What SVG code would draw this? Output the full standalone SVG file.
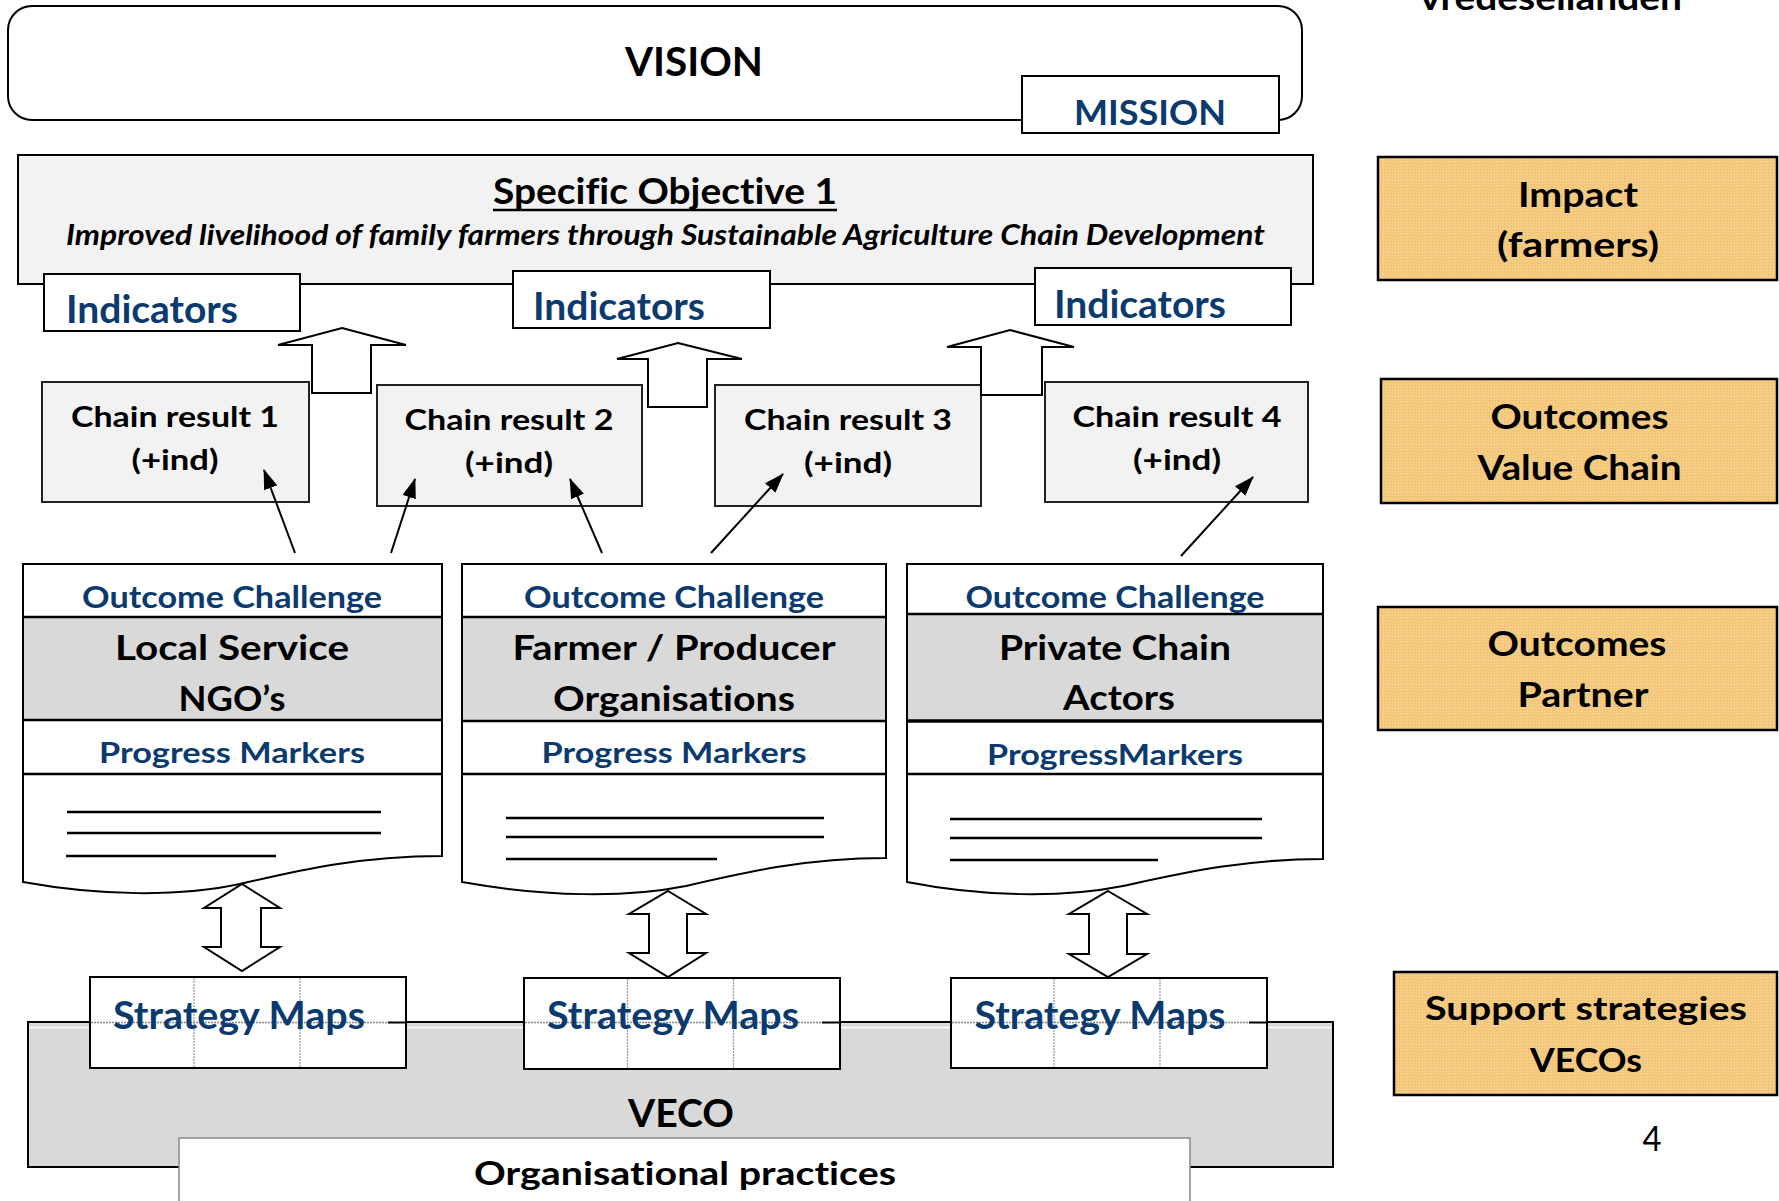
<svg xmlns="http://www.w3.org/2000/svg" width="1779" height="1201" viewBox="0 0 1779 1201">
<defs>
<style>
text{font-family:Lato,"Open Sans","Liberation Sans",sans-serif;font-weight:bold;text-anchor:middle;fill:#000;font-variant-ligatures:none}
.b{fill:#0B3A6F}
.box{stroke:#000;stroke-width:2}
.cr{fill:#F2F2F2;stroke:#222;stroke-width:2}
.blk{fill:none;stroke:#000;stroke-width:2}
.hollow{fill:#fff;stroke:#000;stroke-width:2;stroke-linejoin:miter}
.orange{fill:url(#dots);stroke:#000;stroke-width:2.5}
.pm{stroke:#000;stroke-width:2.6}
.conn{stroke:#000;stroke-width:2;fill:none}
</style>
<pattern id="dots" width="3" height="3" patternUnits="userSpaceOnUse">
<rect width="3" height="3" fill="#F2C577"/>
<rect width="1" height="1" fill="#F9DDAA"/>
<rect x="2" y="2" width="1" height="1" fill="#F6D293"/>
</pattern>
<marker id="ah" markerWidth="20" markerHeight="14" refX="19" refY="7" orient="auto" markerUnits="userSpaceOnUse">
<path d="M0,0 L20,7 L0,14 Z" fill="#000"/>
</marker>
</defs>
<rect width="1779" height="1201" fill="#fff"/>

<text x="1551" y="10" font-size="34" textLength="262" lengthAdjust="spacingAndGlyphs" fill="#1a1a1a">vredeseilanden</text>

<g id="vision">
<rect x="8" y="6" width="1294" height="114" rx="24" ry="24" fill="#fff" stroke="#000" stroke-width="2"/>
<text x="694" y="76" font-size="41" textLength="138" lengthAdjust="spacingAndGlyphs">VISION</text>
</g>
<g id="mission">
<rect x="1022" y="76" width="257" height="57" fill="#fff" class="box"/>
<text x="1150" y="125" font-size="35" class="b" textLength="152" lengthAdjust="spacingAndGlyphs">MISSION</text>
</g>

<g id="objective">
<rect x="18" y="155" width="1295" height="129" fill="#F2F2F2" class="box"/>
<text x="665" y="204" font-size="36" textLength="344" lengthAdjust="spacingAndGlyphs">Specific Objective 1</text>
<line x1="493" y1="210" x2="837" y2="210" stroke="#000" stroke-width="2.5"/>
<text x="665.5" y="245" font-size="28" font-style="italic" textLength="1199" lengthAdjust="spacingAndGlyphs">Improved livelihood of family farmers through Sustainable Agriculture Chain Development</text>
</g>

<g id="indicators1">
<rect x="44" y="274" width="256" height="57" fill="#fff" class="box"/>
<text x="152" y="323" font-size="39" class="b" textLength="172" lengthAdjust="spacingAndGlyphs">Indicators</text>
</g>
<g id="indicators2">
<rect x="513" y="271" width="257" height="57" fill="#fff" class="box"/>
<text x="619" y="320" font-size="39" class="b" textLength="172" lengthAdjust="spacingAndGlyphs">Indicators</text>
</g>
<g id="indicators3">
<rect x="1035" y="268" width="256" height="57" fill="#fff" class="box"/>
<text x="1140" y="318" font-size="39" class="b" textLength="172" lengthAdjust="spacingAndGlyphs">Indicators</text>
</g>

<g id="chain1">
<rect x="42" y="382" width="267" height="120" class="cr"/>
<text x="175" y="427" font-size="28" textLength="208" lengthAdjust="spacingAndGlyphs">Chain result 1</text>
<text x="175" y="470" font-size="28" textLength="87" lengthAdjust="spacingAndGlyphs">(+ind)</text>
</g>
<g id="chain2">
<rect x="377" y="385" width="265" height="121" class="cr"/>
<text x="509" y="430" font-size="28" textLength="209" lengthAdjust="spacingAndGlyphs">Chain result 2</text>
<text x="509" y="473" font-size="28" textLength="88" lengthAdjust="spacingAndGlyphs">(+ind)</text>
</g>
<g id="chain3">
<rect x="715" y="385" width="266" height="121" class="cr"/>
<text x="848" y="430" font-size="28" textLength="208" lengthAdjust="spacingAndGlyphs">Chain result 3</text>
<text x="848" y="473" font-size="28" textLength="88" lengthAdjust="spacingAndGlyphs">(+ind)</text>
</g>
<g id="chain4">
<rect x="1045" y="382" width="263" height="120" class="cr"/>
<text x="1177" y="427" font-size="28" textLength="209" lengthAdjust="spacingAndGlyphs">Chain result 4</text>
<text x="1177" y="470" font-size="28" textLength="88" lengthAdjust="spacingAndGlyphs">(+ind)</text>
</g>

<g id="partner1">
<path d="M23,564 H442 V856 C 360,856 300,870 240,884 C 180,897 100,896 23,882 Z" fill="#fff" stroke="#000" stroke-width="2"/>
<rect x="23" y="617" width="419" height="103" fill="#D9D9D9"/>
<line class="pm" x1="23" y1="617" x2="442" y2="617"/>
<line class="pm" x1="23" y1="720" x2="442" y2="720"/>
<line class="pm" x1="23" y1="774" x2="442" y2="774"/>
<line class="blk" x1="23" y1="564" x2="23" y2="882"/>
<line class="blk" x1="442" y1="564" x2="442" y2="856"/>
<line class="pm" x1="67" y1="812" x2="381" y2="812"/>
<line class="pm" x1="67" y1="833" x2="381" y2="833"/>
<line class="pm" x1="66" y1="856" x2="276" y2="856"/>
<text x="232" y="608" font-size="30" class="b" textLength="300" lengthAdjust="spacingAndGlyphs">Outcome Challenge</text>
<text x="232" y="660" font-size="35" textLength="234" lengthAdjust="spacingAndGlyphs">Local  Service</text>
<text x="232" y="711" font-size="35" textLength="107" lengthAdjust="spacingAndGlyphs">NGO’s</text>
<text x="232" y="763" font-size="29" class="b" textLength="266" lengthAdjust="spacingAndGlyphs">Progress Markers</text>
</g>

<g id="partner2">
<path d="M462,564 H886 V858 C 806,858 746,872 686,886 C 626,898 546,897 462,882 Z" fill="#fff" stroke="#000" stroke-width="2"/>
<rect x="462" y="617" width="424" height="104" fill="#D9D9D9"/>
<line class="pm" x1="462" y1="617" x2="886" y2="617"/>
<line class="pm" x1="462" y1="721" x2="886" y2="721"/>
<line class="pm" x1="462" y1="774" x2="886" y2="774"/>
<line class="blk" x1="462" y1="564" x2="462" y2="882"/>
<line class="blk" x1="886" y1="564" x2="886" y2="858"/>
<line class="pm" x1="506" y1="818" x2="824" y2="818"/>
<line class="pm" x1="506" y1="837" x2="824" y2="837"/>
<line class="pm" x1="506" y1="859" x2="717" y2="859"/>
<text x="674" y="608" font-size="30" class="b" textLength="300" lengthAdjust="spacingAndGlyphs">Outcome Challenge</text>
<text x="674" y="660" font-size="35" textLength="323" lengthAdjust="spacingAndGlyphs">Farmer / Producer</text>
<text x="674" y="711" font-size="35" textLength="242" lengthAdjust="spacingAndGlyphs">Organisations</text>
<text x="674" y="763" font-size="29" class="b" textLength="265" lengthAdjust="spacingAndGlyphs">Progress Markers</text>
</g>

<g id="partner3">
<path d="M907,564 H1323 V859 C 1243,859 1183,873 1123,886 C 1063,898 983,897 907,882 Z" fill="#fff" stroke="#000" stroke-width="2"/>
<rect x="907" y="614" width="416" height="107" fill="#D9D9D9"/>
<line class="pm" x1="907" y1="614" x2="1323" y2="614"/>
<line x1="907" y1="721" x2="1323" y2="721" stroke="#000" stroke-width="3.5"/>
<line class="pm" x1="907" y1="774" x2="1323" y2="774"/>
<line class="blk" x1="907" y1="564" x2="907" y2="882"/>
<line class="blk" x1="1323" y1="564" x2="1323" y2="859"/>
<line class="pm" x1="950" y1="819" x2="1262" y2="819"/>
<line class="pm" x1="950" y1="838" x2="1262" y2="838"/>
<line class="pm" x1="950" y1="860" x2="1158" y2="860"/>
<text x="1115" y="608" font-size="30" class="b" textLength="299" lengthAdjust="spacingAndGlyphs">Outcome Challenge</text>
<text x="1115" y="660" font-size="35" textLength="232" lengthAdjust="spacingAndGlyphs">Private Chain</text>
<text x="1119" y="710" font-size="35" textLength="112" lengthAdjust="spacingAndGlyphs">Actors</text>
<text x="1115" y="765" font-size="29" class="b" textLength="256" lengthAdjust="spacingAndGlyphs">ProgressMarkers</text>
</g>

<g id="connectors">
<path class="hollow" d="M342,328 L406,345 L371,345 L371,393 L312,393 L312,345 L278,345 Z"/>
<path class="hollow" d="M678,343 L742,359 L707,359 L707,407 L648,407 L648,359 L617,359 Z"/>
<path class="hollow" d="M1010,330 L1074,347 L1042,347 L1042,395 L981,395 L981,347 L947,347 Z"/>
<line class="conn" x1="295" y1="553" x2="264" y2="470" marker-end="url(#ah)"/>
<line class="conn" x1="391" y1="553" x2="415" y2="479" marker-end="url(#ah)"/>
<line class="conn" x1="602" y1="553" x2="570" y2="479" marker-end="url(#ah)"/>
<line class="conn" x1="711" y1="553" x2="783" y2="474" marker-end="url(#ah)"/>
<line class="conn" x1="1181" y1="556" x2="1253" y2="477" marker-end="url(#ah)"/>
<path class="hollow" d="M242,884 L280,908 L261,908 L261,947 L280,947 L242,971 L204,947 L221,947 L221,908 L204,908 Z"/>
<path class="hollow" d="M668,891 L706,914 L687,914 L687,953 L706,953 L668,977 L629,953 L649,953 L649,914 L629,914 Z"/>
<path class="hollow" d="M1108,891 L1147,914 L1127,914 L1127,954 L1147,954 L1108,977 L1069,954 L1089,954 L1089,914 L1069,914 Z"/>
</g>

<g id="veco">
<rect x="28" y="1022" width="1305" height="145" fill="#D9D9D9" stroke="#000" stroke-width="2"/>
<line x1="30" y1="1027.5" x2="1331" y2="1027.5" stroke="#fff" stroke-width="1.5"/>
<text x="681" y="1127" font-size="39" textLength="106" lengthAdjust="spacingAndGlyphs">VECO</text>
</g>
<g id="orgpractices">
<rect x="179" y="1138" width="1011" height="70" fill="#fff" stroke="#888" stroke-width="1.5"/>
<text x="685" y="1185" font-size="33" textLength="422" lengthAdjust="spacingAndGlyphs">Organisational practices</text>
</g>

<g id="strategy1">
<rect x="90" y="977" width="316" height="91" fill="#fff" class="box"/>
<line x1="194" y1="978" x2="194" y2="1067" stroke="#999" stroke-width="1.2" stroke-dasharray="2,1"/>
<line x1="300" y1="978" x2="300" y2="1067" stroke="#999" stroke-width="1.2" stroke-dasharray="2,1"/>
<line x1="91" y1="1022.5" x2="388" y2="1022.5" stroke="#888" stroke-width="1.5" stroke-dasharray="2,1"/>
<line x1="388" y1="1022.5" x2="406" y2="1022.5" stroke="#000" stroke-width="2"/>
<text x="239" y="1029" font-size="38" class="b" textLength="252" lengthAdjust="spacingAndGlyphs">Strategy Maps</text>
</g>
<g id="strategy2">
<rect x="524" y="978" width="316" height="91" fill="#fff" class="box"/>
<line x1="627.5" y1="979" x2="627.5" y2="1068" stroke="#999" stroke-width="1.2" stroke-dasharray="2,1"/>
<line x1="733.5" y1="979" x2="733.5" y2="1068" stroke="#999" stroke-width="1.2" stroke-dasharray="2,1"/>
<line x1="525" y1="1022.5" x2="822" y2="1022.5" stroke="#888" stroke-width="1.5" stroke-dasharray="2,1"/>
<line x1="822" y1="1022.5" x2="840" y2="1022.5" stroke="#000" stroke-width="2"/>
<text x="673" y="1029" font-size="38" class="b" textLength="252" lengthAdjust="spacingAndGlyphs">Strategy Maps</text>
</g>
<g id="strategy3">
<rect x="951" y="978" width="316" height="90" fill="#fff" class="box"/>
<line x1="1054" y1="979" x2="1054" y2="1067" stroke="#999" stroke-width="1.2" stroke-dasharray="2,1"/>
<line x1="1160" y1="979" x2="1160" y2="1067" stroke="#999" stroke-width="1.2" stroke-dasharray="2,1"/>
<line x1="952" y1="1022.5" x2="1249" y2="1022.5" stroke="#888" stroke-width="1.5" stroke-dasharray="2,1"/>
<line x1="1249" y1="1022.5" x2="1267" y2="1022.5" stroke="#000" stroke-width="2"/>
<text x="1100" y="1029" font-size="38" class="b" textLength="251" lengthAdjust="spacingAndGlyphs">Strategy Maps</text>
</g>

<g id="impact">
<rect x="1378" y="157" width="399" height="123" class="orange"/>
<text x="1578" y="207" font-size="35" textLength="120" lengthAdjust="spacingAndGlyphs">Impact</text>
<text x="1578" y="257" font-size="35" textLength="162" lengthAdjust="spacingAndGlyphs">(farmers)</text>
</g>
<g id="outcomes-vc">
<rect x="1381" y="379" width="396" height="124" class="orange"/>
<text x="1579.5" y="429" font-size="35" textLength="178" lengthAdjust="spacingAndGlyphs">Outcomes</text>
<text x="1579.5" y="480" font-size="35" textLength="204" lengthAdjust="spacingAndGlyphs">Value Chain</text>
</g>
<g id="outcomes-partner">
<rect x="1378" y="607" width="399" height="123" class="orange"/>
<text x="1577" y="656" font-size="35" textLength="179" lengthAdjust="spacingAndGlyphs">Outcomes</text>
<text x="1583" y="707" font-size="35" textLength="131" lengthAdjust="spacingAndGlyphs">Partner</text>
</g>
<g id="support">
<rect x="1394" y="972" width="383" height="123" class="orange"/>
<text x="1586" y="1020" font-size="33" textLength="322" lengthAdjust="spacingAndGlyphs">Support strategies</text>
<text x="1586" y="1072" font-size="33" textLength="112" lengthAdjust="spacingAndGlyphs">VECOs</text>
</g>

<text x="1652" y="1151" font-size="34" style="font-weight:normal" textLength="19" lengthAdjust="spacingAndGlyphs">4</text>
</svg>
